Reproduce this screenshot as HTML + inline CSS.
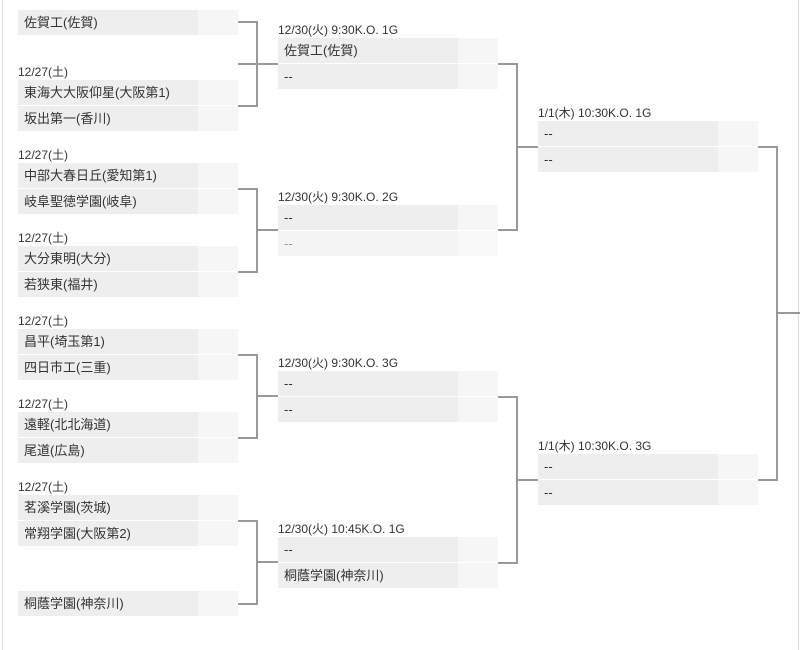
<!DOCTYPE html>
<html><head><meta charset="utf-8"><style>
body{margin:0;width:800px;height:650px;background:#fff;position:relative;overflow:hidden;font-family:"Liberation Sans","Noto Sans CJK JP",sans-serif;color:#333}
.r{position:absolute;height:25px;width:220px;font-size:13px;line-height:25px}
.r .n{position:absolute;left:0;top:0;width:174px;height:25px;background:#eee;padding-left:6px}
.r .s{position:absolute;left:180px;top:0;width:40px;height:25px;background:#f6f6f6}
.r.l .n{background:#f4f4f4;color:#999}
.lb{position:absolute;font-size:12px;line-height:14px;color:#333}
.h{position:absolute;height:2px;background:#999}
.v{position:absolute;width:2px;background:#999}
</style></head><body>
<div style="position:absolute;left:2px;top:0;width:1px;height:650px;background:#ddd"></div>
<div style="position:absolute;left:798px;top:0;width:1px;height:650px;background:#ddd"></div>

<!-- col1 -->
<div class="r" style="left:18px;top:10px"><div class="n">佐賀工(佐賀)</div><div class="s"></div></div>
<div class="lb" style="left:18px;top:65px">12/27(土)</div>
<div class="r" style="left:18px;top:80px"><div class="n">東海大大阪仰星(大阪第1)</div><div class="s"></div></div>
<div class="r" style="left:18px;top:106px"><div class="n">坂出第一(香川)</div><div class="s"></div></div>
<div class="lb" style="left:18px;top:148px">12/27(土)</div>
<div class="r" style="left:18px;top:163px"><div class="n">中部大春日丘(愛知第1)</div><div class="s"></div></div>
<div class="r" style="left:18px;top:189px"><div class="n">岐阜聖徳学園(岐阜)</div><div class="s"></div></div>
<div class="lb" style="left:18px;top:231px">12/27(土)</div>
<div class="r" style="left:18px;top:246px"><div class="n">大分東明(大分)</div><div class="s"></div></div>
<div class="r" style="left:18px;top:272px"><div class="n">若狭東(福井)</div><div class="s"></div></div>
<div class="lb" style="left:18px;top:314px">12/27(土)</div>
<div class="r" style="left:18px;top:329px"><div class="n">昌平(埼玉第1)</div><div class="s"></div></div>
<div class="r" style="left:18px;top:355px"><div class="n">四日市工(三重)</div><div class="s"></div></div>
<div class="lb" style="left:18px;top:397px">12/27(土)</div>
<div class="r" style="left:18px;top:412px"><div class="n">遠軽(北北海道)</div><div class="s"></div></div>
<div class="r" style="left:18px;top:438px"><div class="n">尾道(広島)</div><div class="s"></div></div>
<div class="lb" style="left:18px;top:480px">12/27(土)</div>
<div class="r" style="left:18px;top:495px"><div class="n">茗溪学園(茨城)</div><div class="s"></div></div>
<div class="r" style="left:18px;top:521px"><div class="n">常翔学園(大阪第2)</div><div class="s"></div></div>
<div class="r" style="left:18px;top:591px"><div class="n">桐蔭学園(神奈川)</div><div class="s"></div></div>

<!-- col1 brackets -->
<div class="h" style="left:238px;top:63px;width:20px"></div><div class="v" style="left:256px;top:63px;height:43px"></div>
<div class="h" style="left:238px;top:105px;width:20px"></div><div class="v" style="left:256px;top:63px;height:44px"></div>
<div class="h" style="left:238px;top:21px;width:20px"></div><div class="v" style="left:256px;top:21px;height:86px"></div>
<div class="h" style="left:256px;top:63px;width:22px"></div>

<div class="h" style="left:238px;top:188px;width:20px"></div><div class="h" style="left:238px;top:271px;width:20px"></div>
<div class="v" style="left:256px;top:188px;height:85px"></div><div class="h" style="left:256px;top:229px;width:22px"></div>

<div class="h" style="left:238px;top:354px;width:20px"></div><div class="h" style="left:238px;top:437px;width:20px"></div>
<div class="v" style="left:256px;top:354px;height:85px"></div><div class="h" style="left:256px;top:395px;width:22px"></div>

<div class="h" style="left:238px;top:520px;width:20px"></div><div class="h" style="left:238px;top:603px;width:20px"></div>
<div class="v" style="left:256px;top:520px;height:85px"></div><div class="h" style="left:256px;top:561px;width:22px"></div>

<!-- col2 -->
<div class="lb" style="left:278px;top:23px">12/30(火) 9:30K.O. 1G</div>
<div class="r" style="left:278px;top:38px"><div class="n">佐賀工(佐賀)</div><div class="s"></div></div>
<div class="r" style="left:278px;top:64px"><div class="n">--</div><div class="s"></div></div>
<div class="lb" style="left:278px;top:190px">12/30(火) 9:30K.O. 2G</div>
<div class="r" style="left:278px;top:205px"><div class="n">--</div><div class="s"></div></div>
<div class="r l" style="left:278px;top:231px"><div class="n">--</div><div class="s" style="background:#f9f9f9"></div></div>
<div class="lb" style="left:278px;top:356px">12/30(火) 9:30K.O. 3G</div>
<div class="r" style="left:278px;top:371px"><div class="n">--</div><div class="s"></div></div>
<div class="r" style="left:278px;top:397px"><div class="n">--</div><div class="s"></div></div>
<div class="lb" style="left:278px;top:522px">12/30(火) 10:45K.O. 1G</div>
<div class="r" style="left:278px;top:537px"><div class="n">--</div><div class="s"></div></div>
<div class="r" style="left:278px;top:563px"><div class="n">桐蔭学園(神奈川)</div><div class="s"></div></div>

<!-- col2 brackets -->
<div class="h" style="left:498px;top:63px;width:20px"></div><div class="h" style="left:498px;top:229px;width:20px"></div>
<div class="v" style="left:516px;top:63px;height:168px"></div><div class="h" style="left:516px;top:146px;width:22px"></div>
<div class="h" style="left:498px;top:396px;width:20px"></div><div class="h" style="left:498px;top:562px;width:20px"></div>
<div class="v" style="left:516px;top:396px;height:168px"></div><div class="h" style="left:516px;top:479px;width:22px"></div>

<!-- col3 -->
<div class="lb" style="left:538px;top:106px">1/1(木) 10:30K.O. 1G</div>
<div class="r" style="left:538px;top:121px"><div class="n">--</div><div class="s"></div></div>
<div class="r" style="left:538px;top:147px"><div class="n">--</div><div class="s"></div></div>
<div class="lb" style="left:538px;top:439px">1/1(木) 10:30K.O. 3G</div>
<div class="r" style="left:538px;top:454px"><div class="n">--</div><div class="s"></div></div>
<div class="r" style="left:538px;top:480px"><div class="n">--</div><div class="s"></div></div>

<div class="h" style="left:758px;top:146px;width:20px"></div><div class="h" style="left:758px;top:479px;width:20px"></div>
<div class="v" style="left:776px;top:146px;height:335px"></div><div class="h" style="left:776px;top:312px;width:24px"></div>
</body></html>
